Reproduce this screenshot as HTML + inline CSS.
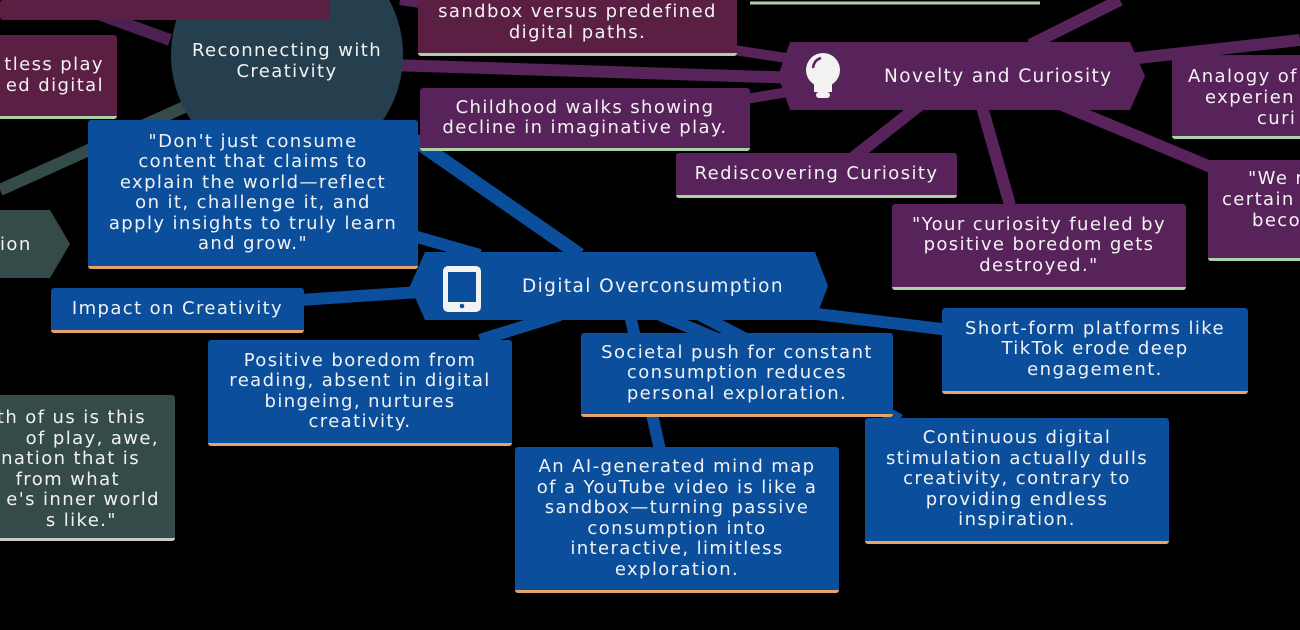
<!DOCTYPE html>
<html><head><meta charset="utf-8">
<style>
body{margin:0;width:1300px;height:630px;background:#000;overflow:hidden;position:relative;font-family:"DejaVu Sans","Liberation Sans",sans-serif;}
.b{position:absolute;color:#f2f2f2;font-size:18px;line-height:20.5px;letter-spacing:1.4px;text-align:center;box-sizing:border-box;display:flex;flex-direction:column;justify-content:center;border-radius:3px;white-space:nowrap;}
.blue{background:#0b4e9b;border-bottom:3px solid #e4a46a;}
.pur{background:#58235a;border-bottom:3px solid #a9d3a6;}
.mar{background:#5a1f42;border-bottom:3px solid #a9d3a6;}
.grn{background:#354b4a;border-bottom:3px solid #c9c9c9;}
.l{position:absolute;color:#f2f2f2;font-size:18px;letter-spacing:1.4px;white-space:nowrap;}
</style></head><body>
<svg width="1300" height="630" style="position:absolute;left:0;top:0">
<g stroke-linecap="butt" fill="none">
<line x1="170" y1="40" x2="60" y2="0" stroke="#4a2150" stroke-width="12"/>
<line x1="200" y1="100" x2="0" y2="190" stroke="#354b4a" stroke-width="12"/>
<line x1="390" y1="65" x2="800" y2="78" stroke="#58235a" stroke-width="12"/>
<line x1="400" y1="0" x2="800" y2="60" stroke="#58235a" stroke-width="10"/>
<line x1="740" y1="100" x2="800" y2="90" stroke="#58235a" stroke-width="10"/>
<line x1="920" y1="105" x2="850" y2="160" stroke="#58235a" stroke-width="12"/>
<line x1="980" y1="100" x2="1010" y2="205" stroke="#58235a" stroke-width="12"/>
<line x1="1050" y1="100" x2="1230" y2="175" stroke="#58235a" stroke-width="12"/>
<line x1="1120" y1="60" x2="1300" y2="40" stroke="#58235a" stroke-width="12"/>
<line x1="1030" y1="45" x2="1120" y2="0" stroke="#58235a" stroke-width="12"/>
<line x1="400" y1="130" x2="580" y2="255" stroke="#0b4e9b" stroke-width="14"/>
<line x1="410" y1="235" x2="480" y2="255" stroke="#0b4e9b" stroke-width="12"/>
<line x1="300" y1="300" x2="420" y2="292" stroke="#0b4e9b" stroke-width="12"/>
<line x1="480" y1="340" x2="560" y2="315" stroke="#0b4e9b" stroke-width="12"/>
<line x1="630" y1="315" x2="660" y2="450" stroke="#0b4e9b" stroke-width="12"/>
<line x1="660" y1="315" x2="720" y2="340" stroke="#0b4e9b" stroke-width="12"/>
<line x1="700" y1="315" x2="900" y2="420" stroke="#0b4e9b" stroke-width="12"/>
<line x1="800" y1="312" x2="950" y2="330" stroke="#0b4e9b" stroke-width="12"/>
</g>
<circle cx="287" cy="55" r="116" fill="#253f4f"/>
<polygon points="790,42 1130,42 1145,76 1130,110 790,110 778,76" fill="#58235a"/>
<polygon points="425,252 815,252 828,286 815,320 425,320 410,286" fill="#0b4e9b"/>
<polygon points="0,210 50,210 70,244 50,278 0,278" fill="#354b4a"/>
<circle cx="823" cy="70" r="17" fill="#f2f2f2"/>
<rect x="814" y="80" width="18" height="12" fill="#f2f2f2"/>
<rect x="816" y="92" width="14" height="6" rx="3" fill="#f2f2f2"/>
<path d="M813 68 Q814 60 821 58" stroke="#58235a" stroke-width="2.5" fill="none"/>
<rect x="443" y="266" width="38" height="46" rx="5" fill="#f2f2f2"/>
<rect x="448" y="272" width="28" height="30" fill="#0b4e9b"/>
<circle cx="462" cy="306" r="2.3" fill="#0b4e9b"/>
<line x1="750" y1="3" x2="1040" y2="3" stroke="#a9d3a6" stroke-width="3"/>
</svg>
<div class="b mar" style="left:0;top:0;width:330px;height:20px;border:none"></div>
<div class="b mar" style="left:-40px;top:35px;width:157px;height:84px;text-align:right;padding-right:13px">tless play<br>ed digital</div>
<div class="l" style="left:172px;top:40px;width:230px;text-align:center">Reconnecting with</div>
<div class="l" style="left:172px;top:61px;width:230px;text-align:center">Creativity</div>
<div class="b mar" style="left:418px;top:-20px;width:319px;height:76px;justify-content:flex-end;padding-bottom:10px">sandbox versus predefined<br>digital paths.</div>
<div class="l" style="left:884px;top:66px;font-size:18.5px">Novelty and Curiosity</div>
<div class="b pur" style="left:420px;top:88px;width:330px;height:63px">Childhood walks showing<br>decline in imaginative play.</div>
<div class="b pur" style="left:676px;top:153px;width:281px;height:45px">Rediscovering Curiosity</div>
<div class="b pur" style="left:892px;top:204px;width:294px;height:86px">"Your curiosity fueled by<br>positive boredom gets<br>destroyed."</div>
<div class="b pur" style="left:1172px;top:55px;width:140px;height:84px"></div>
<div class="l" style="left:1188px;top:66px">Analogy of</div>
<div class="l" style="left:1205px;top:87px">experien</div>
<div class="l" style="left:1257px;top:108px">curi</div>
<div class="b pur" style="left:1208px;top:160px;width:100px;height:101px"></div>
<div class="l" style="left:1248px;top:168px">"We r</div>
<div class="l" style="left:1222px;top:189px">certain</div>
<div class="l" style="left:1252px;top:210px">beco</div>
<div class="b blue" style="left:88px;top:120px;width:330px;height:149px">"Don't just consume<br>content that claims to<br>explain the world—reflect<br>on it, challenge it, and<br>apply insights to truly learn<br>and grow."</div>
<div class="l" style="left:0;top:234px">ion</div>
<div class="l" style="left:522px;top:276px;font-size:18.5px">Digital Overconsumption</div>
<div class="b blue" style="left:51px;top:288px;width:253px;height:45px">Impact on Creativity</div>
<div class="b blue" style="left:208px;top:340px;width:304px;height:106px">Positive boredom from<br>reading, absent in digital<br>bingeing, nurtures<br>creativity.</div>
<div class="b blue" style="left:581px;top:333px;width:312px;height:84px">Societal push for constant<br>consumption reduces<br>personal exploration.</div>
<div class="b blue" style="left:942px;top:308px;width:306px;height:86px">Short-form platforms like<br>TikTok erode deep<br>engagement.</div>
<div class="b blue" style="left:865px;top:418px;width:304px;height:126px">Continuous digital<br>stimulation actually dulls<br>creativity, contrary to<br>providing endless<br>inspiration.</div>
<div class="b blue" style="left:515px;top:447px;width:324px;height:146px">An AI-generated mind map<br>of a YouTube video is like a<br>sandbox—turning passive<br>consumption into<br>interactive, limitless<br>exploration.</div>
<div class="b grn" style="left:-10px;top:395px;width:185px;height:146px"></div>
<div class="l" style="right:1154px;top:407px">th of us is this</div>
<div class="l" style="right:1141px;top:428px">of play, awe,</div>
<div class="l" style="right:1160px;top:448px">nation that is</div>
<div class="l" style="right:1180px;top:469px">from what</div>
<div class="l" style="right:1140px;top:489px">e's inner world</div>
<div class="l" style="right:1183px;top:510px">s like."</div>
</body></html>
